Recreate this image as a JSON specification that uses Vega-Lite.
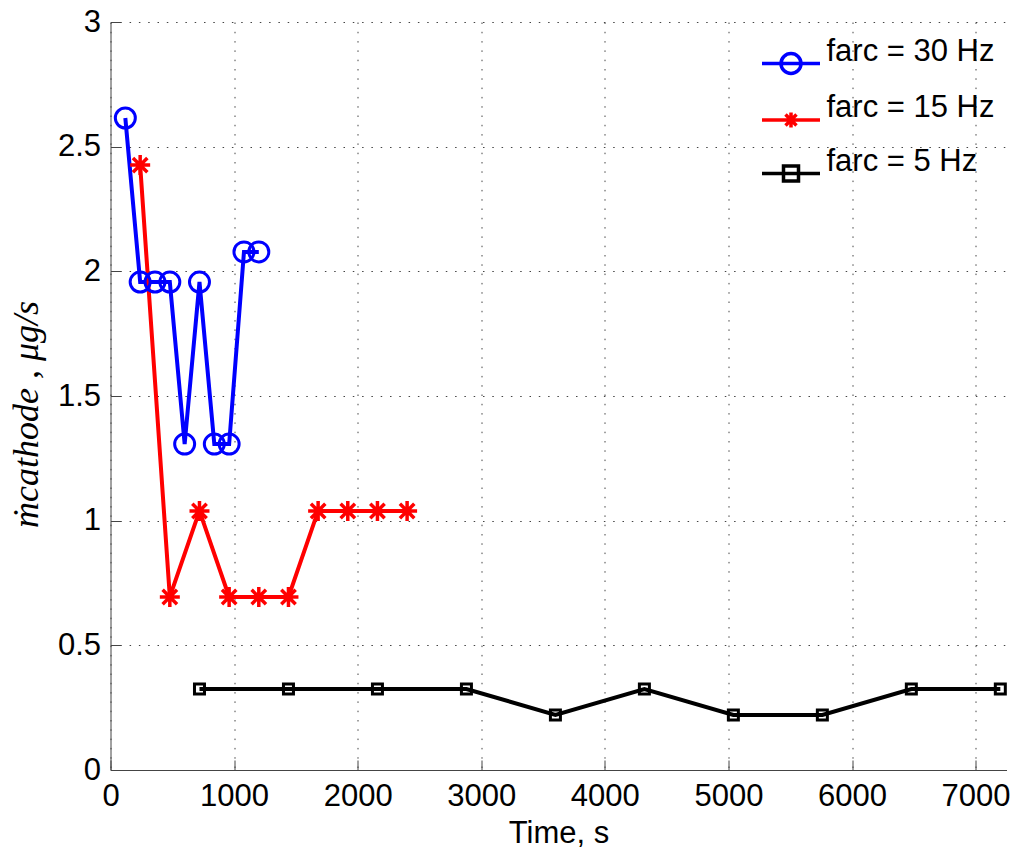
{
  "$schema": "https://vega.github.io/schema/vega-lite/v6.json",
  "width": 896,
  "height": 748,
  "autosize": {"type": "none"},
  "padding": {"left": 110.5, "top": 22, "right": 19.5, "bottom": 78},
  "background": "white",
  "config": {"view": {"stroke": null}, "font": "Liberation Sans"},
  "data": {
    "values": [
      {"series": "farc = 30 Hz", "t": 120, "m": 2.615},
      {"series": "farc = 30 Hz", "t": 240, "m": 1.957},
      {"series": "farc = 30 Hz", "t": 360, "m": 1.957},
      {"series": "farc = 30 Hz", "t": 480, "m": 1.957},
      {"series": "farc = 30 Hz", "t": 600, "m": 1.307},
      {"series": "farc = 30 Hz", "t": 720, "m": 1.957},
      {"series": "farc = 30 Hz", "t": 840, "m": 1.307},
      {"series": "farc = 30 Hz", "t": 960, "m": 1.307},
      {"series": "farc = 30 Hz", "t": 1080, "m": 2.078},
      {"series": "farc = 30 Hz", "t": 1200, "m": 2.078},
      {"series": "farc = 15 Hz", "t": 240, "m": 2.426},
      {"series": "farc = 15 Hz", "t": 480, "m": 0.694},
      {"series": "farc = 15 Hz", "t": 720, "m": 1.039},
      {"series": "farc = 15 Hz", "t": 960, "m": 0.694},
      {"series": "farc = 15 Hz", "t": 1200, "m": 0.694},
      {"series": "farc = 15 Hz", "t": 1440, "m": 0.694},
      {"series": "farc = 15 Hz", "t": 1680, "m": 1.039},
      {"series": "farc = 15 Hz", "t": 1920, "m": 1.039},
      {"series": "farc = 15 Hz", "t": 2160, "m": 1.039},
      {"series": "farc = 15 Hz", "t": 2400, "m": 1.039},
      {"series": "farc = 5 Hz", "t": 720, "m": 0.325},
      {"series": "farc = 5 Hz", "t": 1440, "m": 0.325},
      {"series": "farc = 5 Hz", "t": 2160, "m": 0.325},
      {"series": "farc = 5 Hz", "t": 2880, "m": 0.325},
      {"series": "farc = 5 Hz", "t": 3600, "m": 0.221},
      {"series": "farc = 5 Hz", "t": 4320, "m": 0.325},
      {"series": "farc = 5 Hz", "t": 5040, "m": 0.221},
      {"series": "farc = 5 Hz", "t": 5760, "m": 0.221},
      {"series": "farc = 5 Hz", "t": 6480, "m": 0.325},
      {"series": "farc = 5 Hz", "t": 7200, "m": 0.325}
    ]
  },
  "encoding": {
    "x": {
      "field": "t",
      "type": "quantitative",
      "scale": {"domain": [0, 7250], "nice": false, "zero": false},
      "axis": {
        "values": [0, 1000, 2000, 3000, 4000, 5000, 6000, 7000],
        "format": "d",
        "labelFontSize": 31,
        "labelColor": "black",
        "labelPadding": 21,
        "labelFlush": false,
        "labelOverlap": false,
        "tickSize": -10,
        "tickColor": "#444",
        "domainColor": "#444",
        "grid": true,
        "gridColor": "#444",
        "gridDash": [1.5, 7.8],
        "title": "Time, s",
        "titleFontSize": 31,
        "titleFontWeight": "normal",
        "titleColor": "black",
        "titleBaseline": "alphabetic",
        "titleY": 72
      }
    },
    "y": {
      "field": "m",
      "type": "quantitative",
      "scale": {"domain": [0, 3], "nice": false},
      "axis": {
        "values": [0, 0.5, 1, 1.5, 2, 2.5, 3],
        "format": "~g",
        "labelFontSize": 31,
        "labelColor": "black",
        "labelPadding": 20,
        "labelOverlap": false,
        "labelFlush": false,
        "tickSize": -10,
        "tickColor": "#444",
        "domainColor": "#444",
        "grid": true,
        "gridColor": "#444",
        "gridDash": [1.5, 7.8],
        "title": "ṁcathode ,  μg/s",
        "titleFont": "Liberation Serif",
        "titleFontStyle": "italic",
        "titleFontWeight": "normal",
        "titleFontSize": 36,
        "titleColor": "black",
        "titleAngle": -90,
        "titleAlign": "center",
        "titleBaseline": "alphabetic",
        "titleX": -73,
        "titleY": 392
      }
    }
  },
  "layer": [
    {
      "mark": {"type": "line", "strokeWidth": 4},
      "encoding": {
        "color": {
          "field": "series",
          "type": "nominal",
          "scale": {
            "domain": ["farc = 30 Hz", "farc = 15 Hz", "farc = 5 Hz"],
            "range": ["#0000ff", "#ff0000", "#000000"]
          },
          "legend": {
            "orient": "none",
            "legendX": 620,
            "legendY": 14,
            "title": null,
            "padding": 0,
            "labelFontSize": 31,
            "labelFont": "Liberation Sans",
            "labelColor": "black",
            "labelLimit": 400,
            "symbolSize": 400,
            "symbolStrokeWidth": 3.5,
            "symbolOffset": 45,
            "labelOffset": 20,
            "rowPadding": 10.5,
            "encode": {
              "symbols": {
                "update": {
                  "shape": {"signal": "datum.value === 'farc = 30 Hz' ? 'M-2.9,1.2H2.9M-1,1.2A1,1 0 1,0 1,1.2A1,1 0 1,0 -1,1.2' : (datum.value === 'farc = 15 Hz' ? 'M-2.9,1.2H2.9M0,0.45V1.95M-0.75,1.2H0.75M-0.55,0.65L0.55,1.75M-0.55,1.75L0.55,0.65' : 'M-2.9,1.2H2.9M-0.75,0.45H0.75V1.95H-0.75Z')"},
                  "stroke": {"signal": "datum.value === 'farc = 30 Hz' ? '#0000ff' : (datum.value === 'farc = 15 Hz' ? '#ff0000' : '#000000')"},
                  "fill": {"value": "transparent"},
                  "strokeWidth": {"value": 3.5},
                  "opacity": {"value": 1}
                }
              }
            }
          }
        }
      }
    },
    {
      "transform": [{"filter": "datum.series === 'farc = 30 Hz'"}],
      "mark": {"type": "point", "filled": false, "size": 400, "strokeWidth": 3, "opacity": 1, "color": "#0000ff", "shape": "M-1,0A1,1 0 1,0 1,0A1,1 0 1,0 -1,0"}
    },
    {
      "transform": [{"filter": "datum.series === 'farc = 15 Hz'"}],
      "mark": {"type": "point", "filled": false, "size": 400, "strokeWidth": 3.5, "opacity": 1, "color": "#ff0000", "shape": "M0,-1V1M-1,0H1M-0.72,-0.72L0.72,0.72M-0.72,0.72L0.72,-0.72"}
    },
    {
      "transform": [{"filter": "datum.series === 'farc = 5 Hz'"}],
      "mark": {"type": "point", "filled": false, "size": 400, "strokeWidth": 3, "opacity": 1, "color": "#000000", "shape": "M-0.5,-0.5H0.5V0.5H-0.5Z"}
    }
  ]
}
